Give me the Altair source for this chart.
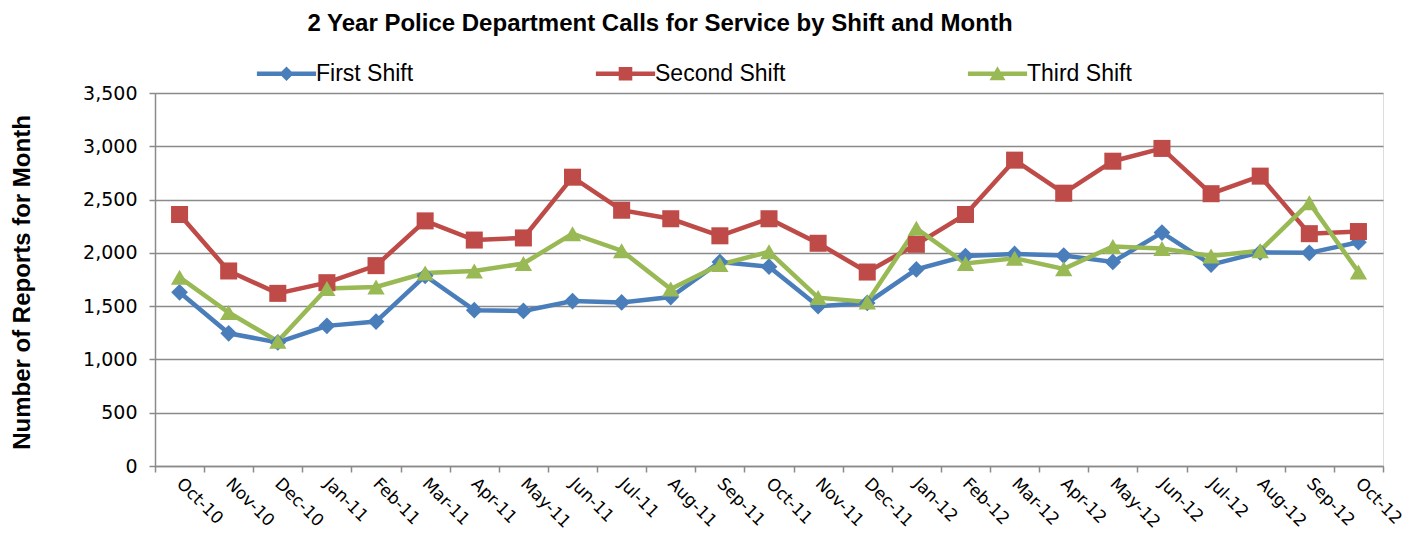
import altair as alt
import pandas as pd

months = ["Oct-10", "Nov-10", "Dec-10", "Jan-11", "Feb-11", "Mar-11", "Apr-11", "May-11",
          "Jun-11", "Jul-11", "Aug-11", "Sep-11", "Oct-11", "Nov-11", "Dec-11", "Jan-12",
          "Feb-12", "Mar-12", "Apr-12", "May-12", "Jun-12", "Jul-12", "Aug-12", "Sep-12", "Oct-12"]

first_shift = [1630, 1245, 1160, 1315, 1355, 1785, 1462, 1455, 1548, 1535, 1585, 1915,
               1870, 1500, 1530, 1845, 1970, 1990, 1975, 1915, 2190, 1890, 2005, 2000, 2100]
second_shift = [2360, 1830, 1620, 1720, 1880, 2300, 2120, 2140, 2710, 2400, 2320, 2160,
                2320, 2090, 1820, 2080, 2360, 2870, 2560, 2860, 2980, 2555, 2720, 2180, 2200]
third_shift = [1770, 1440, 1170, 1665, 1680, 1810, 1830, 1900, 2180, 2020, 1660, 1890,
               2010, 1580, 1540, 2230, 1900, 1950, 1850, 2060, 2040, 1970, 2020, 2470, 1820]

series = ["First Shift", "Second Shift", "Third Shift"]
colors = ["#4A7EBB", "#BE4B48", "#98B954"]
marker_shapes = ["diamond", "square", "triangle-up"]
legend_shapes = [
    "M-3.7,-0.28H3.7V0.28H-3.7Z M-0.9,0L0,-0.9L0.9,0L0,0.9Z",
    "M-3.7,-0.28H3.7V0.28H-3.7Z M-0.85,-0.85H0.85V0.85H-0.85Z",
    "M-3.7,-0.28H3.7V0.28H-3.7Z M0,-0.95L1,0.8L-1,0.8Z",
]

rows = []
for name, vals in zip(series, [first_shift, second_shift, third_shift]):
    for m, v in zip(months, vals):
        rows.append({"month": m, "shift": name, "value": v})
df = pd.DataFrame(rows)

x_enc = alt.X("month:N", sort=months, title=None,
              scale=alt.Scale(paddingInner=0, paddingOuter=0),
              axis=alt.Axis(labelAngle=45, labelFont="DejaVu Sans", labelFontSize=17,
                            labelColor="#000000", labelPadding=3, labelOffset=5,
                            tickBand="extent",
                            tickSize=6, tickColor="#8a8a8a", tickWidth=1.5,
                            domainColor="#8a8a8a", domainWidth=1.5, grid=False,
                            labelOverlap=False))
y_enc = alt.Y("value:Q", title="Number of Reports for Month",
              scale=alt.Scale(domain=[0, 3500], nice=False),
              axis=alt.Axis(values=[0, 500, 1000, 1500, 2000, 2500, 3000, 3500],
                            format=",d", labelFont="DejaVu Sans", labelFontSize=19,
                            labelColor="#000000", labelPadding=12, tickSize=6,
                            tickColor="#8a8a8a", tickWidth=1.5, domainColor="#8a8a8a",
                            domainWidth=1.5, gridColor="#8a8a8a", gridWidth=1.5,
                            titleFont="Liberation Sans", titleFontSize=24,
                            titleFontWeight="bold", titleColor="#000000",
                            titleX=-133, titleY=189, titleAngle=-90,
                            titleBaseline="middle", titleAlign="center"))

color_scale = alt.Scale(domain=series, range=colors)

legend_props = dict(title=None, orient="none", direction="horizontal",
                    columns=3, legendX=120, legendY=-31,
                    labelFont="Liberation Sans", labelFontSize=23,
                    labelColor="#000000", symbolSize=256,
                    symbolStrokeWidth=0, labelOffset=18,
                    columnPadding=181, symbolOpacity=1)

lines = alt.Chart(df).mark_line(strokeWidth=4.5).encode(
    x=x_enc, y=y_enc,
    color=alt.Color("shift:N", scale=color_scale, legend=None),
)

points = alt.Chart(df).mark_point(filled=True, opacity=1, strokeWidth=0).encode(
    x=x_enc, y=y_enc,
    color=alt.Color("shift:N", scale=color_scale, legend=None),
    shape=alt.Shape("shift:N", scale=alt.Scale(domain=series, range=marker_shapes), legend=None),
    size=alt.Size("shift:N", scale=alt.Scale(domain=series, range=[280, 300, 380]), legend=None),
)

legend_layer = alt.Chart(df).transform_filter("datum.value < 0").mark_point(
    filled=True, opacity=1, strokeWidth=0).encode(
    x=x_enc, y=y_enc,
    color=alt.Color("shift:N", scale=alt.Scale(domain=series, range=colors),
                    legend=alt.Legend(**legend_props)),
    shape=alt.Shape("shift:N", scale=alt.Scale(domain=series, range=legend_shapes),
                    legend=alt.Legend(**legend_props)),
)

chart = alt.layer(lines, points, legend_layer).resolve_scale(
    shape="independent", color="independent"
).properties(
    width=1228, height=373,
    title=alt.TitleParams("2 Year Police Department Calls for Service by Shift and Month",
                          font="Liberation Sans", fontSize=24, fontWeight="bold",
                          color="#000000", anchor="middle", dx=-109, offset=26),
    autosize=alt.AutoSizeParams(type="none"),
    padding={"left": 147, "top": 85, "right": 22, "bottom": 68},
).configure_view(stroke=None).configure(background="#ffffff")

chart.save("out.html", embed_options={"renderer": "svg", "actions": False})
